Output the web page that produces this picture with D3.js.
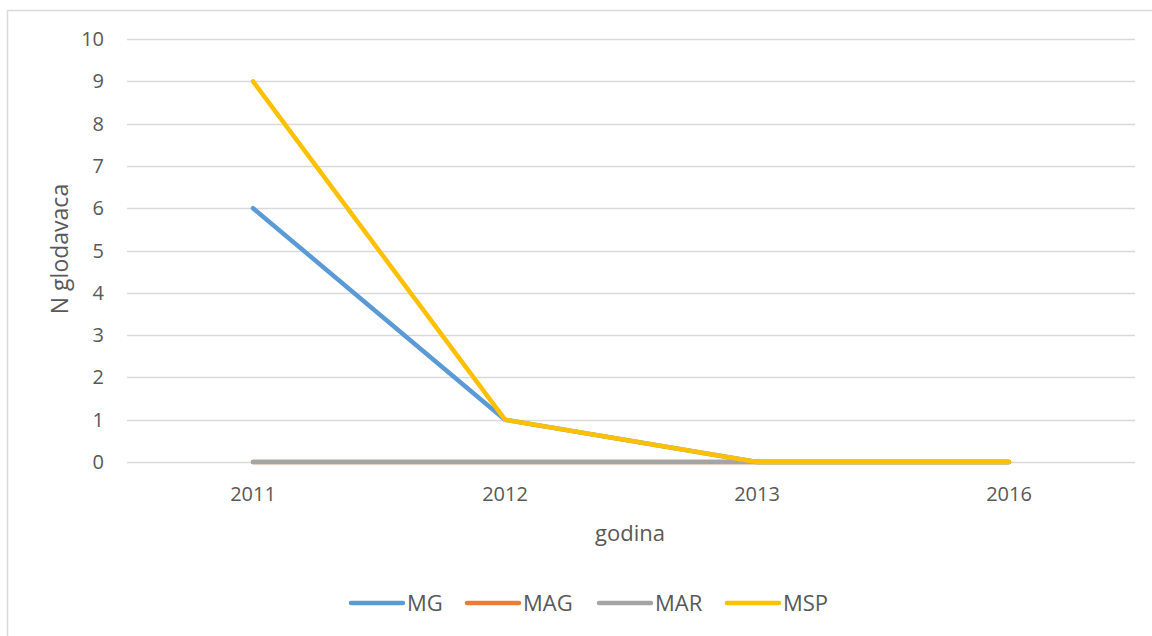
<!DOCTYPE html>
<html>
<head>
<meta charset="utf-8">
<script src="https://cdn.jsdelivr.net/npm/d3@7"></script>
<style>
  body { margin: 0; background: #fff; }
  svg text { font-family: "Open Sans", sans-serif; fill: #595959; }
</style>
</head>
<body>
<div id="chart"></div>
<script>
// chart data
const years = ["2011", "2012", "2013", "2016"];
const seriesNames = ["MG", "MAG", "MAR", "MSP"];
const mgValues = [6, 1, 0, 0];
const magValues = [0, 0, 0, 0];
const marValues = [0, 0, 0, 0];
const mspValues = [9, 1, 0, 0];
const yTicks = [0, 1, 2, 3, 4, 5, 6, 7, 8, 9, 10];

const colors = { MG: "#5B9BD5", MAG: "#ED7D31", MAR: "#A5A5A5", MSP: "#FFC000" };
const series = [
    { name: "MG", values: mgValues },
    { name: "MAG", values: magValues },
    { name: "MAR", values: marValues },
    { name: "MSP", values: mspValues }
];

const width = 1152, height = 636;
const plotLeft = 127, plotRight = 1135, plotTop = 39, plotBottom = 462;

const svg = d3.select("#chart")
    .append("svg")
    .attr("width", width)
    .attr("height", height);

// chart border
svg.append("rect")
    .attr("x", 7.5).attr("y", 10.5)
    .attr("width", 1160).attr("height", 640)
    .attr("fill", "white")
    .attr("stroke", "#d9d9d9")
    .attr("stroke-width", 1.5);

const x = d3.scalePoint().domain(years).range([plotLeft, plotRight]).padding(0.5);
const y = d3.scaleLinear().domain([0, 10]).range([plotBottom, plotTop]);

// gridlines
svg.append("g")
    .selectAll("line")
    .data(yTicks)
    .join("line")
    .attr("x1", plotLeft).attr("x2", plotRight)
    .attr("y1", d => Math.round(y(d)) + 0.5)
    .attr("y2", d => Math.round(y(d)) + 0.5)
    .attr("stroke", "#d9d9d9")
    .attr("stroke-width", 1.3);

// y tick labels
svg.append("g")
    .selectAll("text")
    .data(yTicks)
    .join("text")
    .attr("x", 104)
    .attr("y", d => y(d))
    .attr("dy", "0.35em")
    .attr("text-anchor", "end")
    .style("font-size", "20px")
    .text(d => d);

// x tick labels
svg.append("g")
    .selectAll("text")
    .data(years)
    .join("text")
    .attr("x", d => x(d))
    .attr("y", 494)
    .attr("dy", "0.35em")
    .attr("text-anchor", "middle")
    .style("font-size", "20px")
    .text(d => d);

// axis titles
svg.append("text")
    .attr("x", 630).attr("y", 533)
    .attr("dy", "0.35em")
    .attr("text-anchor", "middle")
    .style("font-size", "22px")
    .text("godina");

svg.append("text")
    .attr("transform", "translate(60,249) rotate(-90)")
    .attr("dy", "0.35em")
    .attr("text-anchor", "middle")
    .style("font-size", "23px")
    .text("N glodavaca");

// lines
const line = d3.line()
    .x((d, i) => x(years[i]))
    .y(d => y(d));

svg.append("g")
    .selectAll("path")
    .data(series)
    .join("path")
    .attr("d", d => line(d.values))
    .attr("fill", "none")
    .attr("stroke", d => colors[d.name])
    .attr("stroke-width", 4.5)
    .attr("stroke-linecap", "round")
    .attr("stroke-linejoin", "round");

// legend
const legendX = [349, 465, 597, 725];
const legend = svg.append("g")
    .selectAll("g")
    .data(series)
    .join("g")
    .attr("transform", (d, i) => `translate(${legendX[i]},603)`);

legend.append("line")
    .attr("x1", 2).attr("x2", 54)
    .attr("stroke", d => colors[d.name])
    .attr("stroke-width", 4.5)
    .attr("stroke-linecap", "round");

legend.append("text")
    .attr("x", 58)
    .attr("dy", "0.35em")
    .style("font-size", "22px")
    .text(d => d.name);
</script>
</body>
</html>
